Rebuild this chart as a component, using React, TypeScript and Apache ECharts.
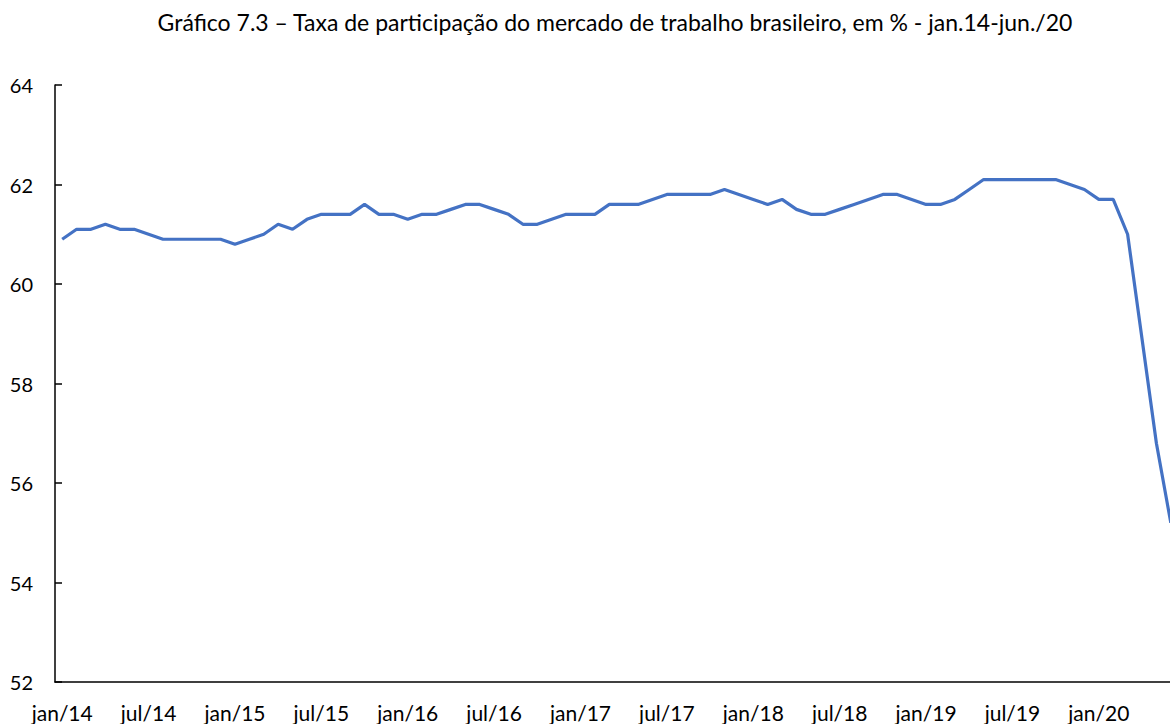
import React, { useEffect, useRef } from "react";
import * as echarts from "echarts";

const TITLE = "Gráfico 7.3 – Taxa de participação do mercado de trabalho brasileiro, em % - jan.14-jun./20";

const MONTHS = ["jan", "fev", "mar", "abr", "mai", "jun", "jul", "ago", "set", "out", "nov", "dez"];
const YEARS = ["14", "15", "16", "17", "18", "19", "20"];

const CATEGORIES: string[] = [];
YEARS.forEach((y) => {
  MONTHS.forEach((m, i) => {
    if (y === "20" && i > 5) return;
    CATEGORIES.push(`${m}/${y}`);
  });
});

const VALUES_2014 = [60.9, 61.1, 61.1, 61.2, 61.1, 61.1, 61.0, 60.9, 60.9, 60.9, 60.9, 60.9];
const VALUES_2015 = [60.8, 60.9, 61.0, 61.2, 61.1, 61.3, 61.4, 61.4, 61.4, 61.6, 61.4, 61.4];
const VALUES_2016 = [61.3, 61.4, 61.4, 61.5, 61.6, 61.6, 61.5, 61.4, 61.2, 61.2, 61.3, 61.4];
const VALUES_2017 = [61.4, 61.4, 61.6, 61.6, 61.6, 61.7, 61.8, 61.8, 61.8, 61.8, 61.9, 61.8];
const VALUES_2018 = [61.7, 61.6, 61.7, 61.5, 61.4, 61.4, 61.5, 61.6, 61.7, 61.8, 61.8, 61.7];
const VALUES_2019 = [61.6, 61.6, 61.7, 61.9, 62.1, 62.1, 62.1, 62.1, 62.1, 62.1, 62.0, 61.9];
const VALUES_2020 = [61.7, 61.7, 61.0, 58.9, 56.8, 55.2];

const VALUES = [
  ...VALUES_2014,
  ...VALUES_2015,
  ...VALUES_2016,
  ...VALUES_2017,
  ...VALUES_2018,
  ...VALUES_2019,
  ...VALUES_2020,
];

const Y_MIN = 52;
const Y_MAX = 64;
const Y_STEP = 2;

const FONT = "Lato, 'Noto Sans', sans-serif";

export default function App() {
  const ref = useRef<HTMLDivElement>(null);

  useEffect(() => {
    if (!ref.current) return;
    const chart = echarts.init(ref.current, null, { renderer: "svg" });
    chart.setOption({
      animation: false,
      backgroundColor: "#ffffff",
      textStyle: { fontFamily: FONT },
      graphic: [
        {
          type: "text",
          x: 615,
          y: 22,
          style: {
            text: TITLE,
            fontFamily: FONT,
            fontSize: 23,
            fill: "#000000",
            textAlign: "center",
            textVerticalAlign: "middle",
          },
        },
      ],
      grid: { left: 55, top: 85, bottom: 42, right: 62 },
      xAxis: {
        type: "category",
        data: CATEGORIES,
        boundaryGap: true,
        axisLine: { show: true, lineStyle: { color: "#000000", width: 1.5 } },
        axisTick: { show: false },
        axisLabel: {
          interval: 5,
          color: "#000000",
          fontSize: 21,
          fontFamily: FONT,
          margin: 20,
        },
        splitLine: { show: false },
      },
      yAxis: {
        type: "value",
        min: Y_MIN,
        max: Y_MAX,
        interval: Y_STEP,
        axisLine: { show: true, lineStyle: { color: "#000000", width: 1.5 } },
        axisTick: { show: true, inside: true, length: 7, lineStyle: { color: "#000000", width: 1.5 } },
        axisLabel: { color: "#000000", fontSize: 20, fontFamily: FONT, margin: 22 },
        splitLine: { show: false },
      },
      series: [
        {
          type: "line",
          data: VALUES,
          showSymbol: false,
          symbol: "none",
          lineStyle: { color: "#4472C4", width: 3.2 },
          itemStyle: { color: "#4472C4" },
        },
      ],
    });
    return () => chart.dispose();
  }, []);

  return (
    <div
      style={{
        position: "fixed",
        left: 0,
        top: 0,
        width: 1170,
        height: 724,
        overflow: "hidden",
        background: "#ffffff",
      }}
    >
      <div ref={ref} style={{ width: 1240, height: 724 }} />
    </div>
  );
}
